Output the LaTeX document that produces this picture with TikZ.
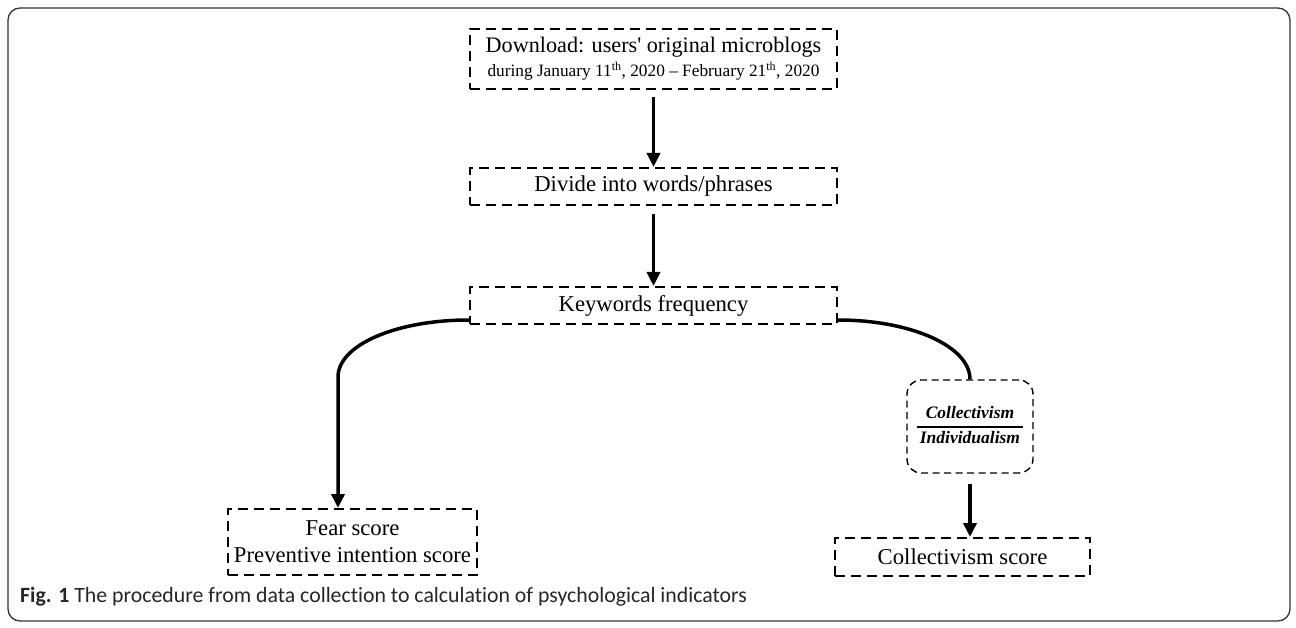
\documentclass[tikz,border=0pt]{standalone}
\usepackage{fontspec}
\setmainfont{Liberation Serif}[Ligatures=TeXOff]
\newfontfamily\capfont{Carlito}[Ligatures={TeXOff,NoCommon}]
\usetikzlibrary{arrows.meta,calc}
\begin{document}
\begin{tikzpicture}[x=1pt,y=-1pt,
  box/.style={draw, line width=2pt, dash pattern=on 10pt off 6pt, minimum width=367pt, inner sep=0pt, align=center, font=\fontsize{22.7}{27}\selectfont},
  fracbox/.style={draw, line width=1.4pt, dash pattern=on 7pt off 4.5pt, rounded corners=14pt, minimum width=126pt, minimum height=93pt, inner sep=0pt, font=\fontsize{17.5}{20}\selectfont\bfseries\itshape},
  conn/.style={line width=3.5pt},
  arr/.style={conn, -{Triangle[length=14pt,width=13pt]}},
]
\useasboundingbox (0,0) rectangle (1296,628);
\draw[line width=1.3pt, rounded corners=12pt, black!80] (8,8) rectangle (1290,621);

\node[box, minimum height=60pt] (dl) at (653.5,59) {{\fontsize{22.2}{27}\selectfont Download: users' original microblogs}\\[-3pt]{\fontsize{17.3}{20}\selectfont during January 11\textsuperscript{th}, 2020 – February 21\textsuperscript{th}, 2020}};
\node[box, minimum height=37pt] (dv) at (653.5,186.5) {Divide into words/phrases};
\node[box, minimum height=37pt] (kw) at (653.5,305.5) {Keywords frequency};
\node[fracbox] (fr) at (970,426.5) {\setlength{\arrayrulewidth}{1.3pt}\renewcommand{\arraystretch}{1.15}\begin{tabular}{@{\hspace{3pt}}c@{\hspace{3pt}}}Collectivism\\[1pt]\hline Individualism\end{tabular}};
\node[box, minimum width=249pt, minimum height=66pt] (fear) at (352.5,542) {Fear score\\Preventive intention score};
\node[box, minimum width=255pt, minimum height=38pt] (cs) at (962.5,557) {Collectivism score};

\draw[arr] ([yshift=-7pt]dl.south) -- (dv.north);
\draw[arr] ([yshift=-8pt]dv.south) -- (kw.north);
\coordinate (lt) at (338,377);
\draw[arr] ([yshift=5pt]kw.south west) .. controls +(-73,0) and +(0,-32) .. (lt) -- (lt |- fear.north);
\draw[conn] ([yshift=5pt]kw.south east) .. controls +(73,0) and +(0,-33) .. (fr.north);
\draw[arr] ([yshift=-10pt]fr.south) -- (fr.south |- cs.north);

\node[anchor=west, font=\capfont\fontsize{21.8}{24}\selectfont, inner sep=0pt, text=black!85] (cap) at (20,597) {\textbf{Fig. 1} The procedure from data collection to calculation of psychological indicators};
\end{tikzpicture}
\end{document}
